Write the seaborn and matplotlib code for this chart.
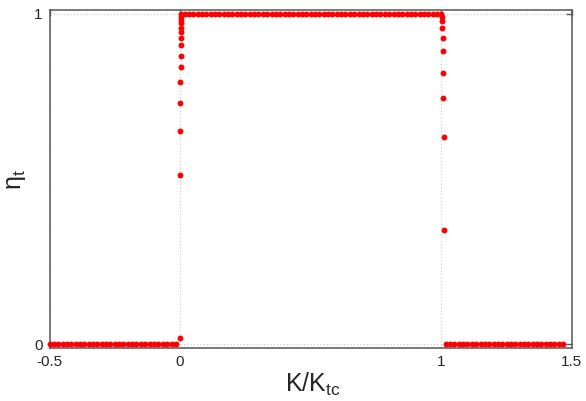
import pandas as pd
import seaborn as sns
import matplotlib.pyplot as plt

# K/K_tc sample points and transmission eta_t
k_low = [-0.500, -0.483, -0.467, -0.450, -0.433, -0.417, -0.400, -0.383, -0.367, -0.350,
         -0.333, -0.317, -0.300, -0.283, -0.267, -0.250, -0.233, -0.217, -0.200, -0.183,
         -0.167, -0.150, -0.133, -0.117, -0.100, -0.083, -0.067, -0.050, -0.033, -0.017]
eta_low = [0.0] * 30

k_rise = [0.0000, 0.0003, 0.0006, 0.0009, 0.0012, 0.0015, 0.0018, 0.0021, 0.0024,
          0.0027, 0.0030, 0.0033, 0.0036, 0.0039, 0.0042]
eta_rise = [0.017, 0.513, 0.647, 0.730, 0.793, 0.838, 0.874, 0.907, 0.927,
            0.946, 0.958, 0.972, 0.982, 0.992, 1.0]

k_mid = [0.017, 0.033, 0.050, 0.067, 0.083, 0.100, 0.117, 0.133, 0.150, 0.167,
         0.183, 0.200, 0.217, 0.233, 0.250, 0.267, 0.283, 0.300, 0.317, 0.333,
         0.350, 0.367, 0.383, 0.400, 0.417, 0.433, 0.450, 0.467, 0.483, 0.500,
         0.517, 0.533, 0.550, 0.567, 0.583, 0.600, 0.617, 0.633, 0.650, 0.667,
         0.683, 0.700, 0.717, 0.733, 0.750, 0.767, 0.783, 0.800, 0.817, 0.833,
         0.850, 0.867, 0.883, 0.900, 0.917, 0.933, 0.950, 0.967, 0.983]
eta_mid = [1.0] * 59

k_fall = [1.000, 1.001, 1.002, 1.003, 1.005, 1.006, 1.007, 1.008, 1.009, 1.011]
eta_fall = [1.0, 0.990, 0.979, 0.957, 0.926, 0.887, 0.822, 0.747, 0.626, 0.346]

k_high = [1.017, 1.033, 1.050, 1.067, 1.083, 1.100, 1.117, 1.133, 1.150, 1.167,
          1.183, 1.200, 1.217, 1.233, 1.250, 1.267, 1.283, 1.300, 1.317, 1.333,
          1.350, 1.367, 1.383, 1.400, 1.417, 1.433, 1.450, 1.467]
eta_high = [0.0] * 28

x_ticks = [-0.5, 0, 1, 1.5]
x_ticklabels = ['-0.5', '0', '1', '1.5']
y_ticks = [0, 1]
y_ticklabels = ['0', '1']

df = pd.DataFrame({
    'K': k_low + k_rise + k_mid + k_fall + k_high,
    'eta': eta_low + eta_rise + eta_mid + eta_fall + eta_high,
})

sns.set_style('white')
plt.rcParams['font.family'] = ['Liberation Sans', 'DejaVu Sans']
plt.rcParams['mathtext.fontset'] = 'custom'
plt.rcParams['mathtext.rm'] = 'Liberation Sans'

fig = plt.figure(figsize=(5.86, 4.01), dpi=100)
ax = fig.add_axes([0.0845, 0.132, 0.8915, 0.843])

sns.scatterplot(data=df, x='K', y='eta', ax=ax, color='#ff0000', s=18,
                linewidth=0, zorder=3, clip_on=False)

ax.set_xlim(-0.5, 1.5)
ax.set_ylim(-0.012, 1.012)
ax.set_xticks(x_ticks)
ax.set_xticklabels(x_ticklabels)
ax.set_yticks(y_ticks)
ax.set_yticklabels(y_ticklabels)
ax.tick_params(direction='in', length=4, width=1, color='#555555',
               labelsize=11, top=True, right=True, pad=5)
ax.grid(True, linestyle=(0, (1, 2)), color='#c8c8c8', linewidth=0.8)

for sp in ax.spines.values():
    sp.set_color('#555555')
    sp.set_linewidth(1.1)

ax.set_xlabel(r'$\mathregular{K/K_{tc}}$', fontsize=18)
ax.set_ylabel(r'$\mathregular{η_t}$', fontsize=18)
ax.xaxis.set_label_coords(0.504, -0.068)
ax.yaxis.set_label_coords(-0.041, 0.5)

fig.savefig('out.png', dpi=100)
